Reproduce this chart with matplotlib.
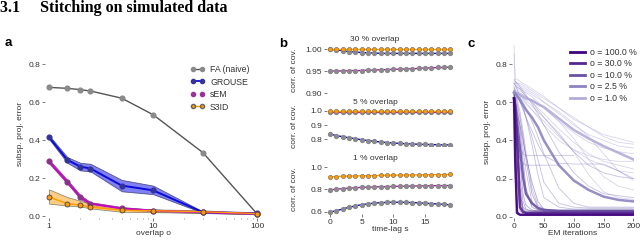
import numpy as np
import matplotlib
matplotlib.use("Agg")
import matplotlib.pyplot as plt
from matplotlib.lines import Line2D
from matplotlib.ticker import FixedLocator, NullFormatter

plt.rcParams['font.family'] = ['Liberation Sans', 'DejaVu Sans']
plt.rcParams['font.size'] = 6

# ---- panel a: error vs overlap ----
overlap = [1, 1.5, 2, 2.5, 5, 10, 30, 100]
fa_err = [0.677, 0.672, 0.665, 0.658, 0.62, 0.533, 0.334, 0.01]
grouse_err = [0.415, 0.295, 0.26, 0.25, 0.16, 0.135, 0.02, 0.015]
grouse_lo = [0.405, 0.28, 0.24, 0.235, 0.13, 0.115, 0.017, 0.012]
grouse_hi = [0.425, 0.31, 0.28, 0.275, 0.19, 0.16, 0.024, 0.018]
sem_err = [0.287, 0.18, 0.10, 0.065, 0.04, 0.028, 0.02, 0.012]
sem_lo = [0.277, 0.17, 0.09, 0.057, 0.034, 0.023, 0.016, 0.009]
sem_hi = [0.297, 0.19, 0.11, 0.073, 0.047, 0.034, 0.025, 0.015]
s3id_err = [0.10, 0.065, 0.058, 0.047, 0.03, 0.028, 0.022, 0.013]
s3id_lo = [0.065, 0.055, 0.05, 0.04, 0.022, 0.02, 0.017, 0.01]
s3id_hi = [0.14, 0.10, 0.08, 0.065, 0.04, 0.035, 0.03, 0.016]

# ---- panel b: corr. of cov. vs time-lag ----
lags = list(range(20))
b30_s3id = [0.9995] * 20
b30_grouse = [0.999, 0.998, 0.996, 0.994, 0.993, 0.992, 0.991, 0.991, 0.990, 0.990,
              0.990, 0.990, 0.990, 0.990, 0.990, 0.990, 0.990, 0.990, 0.990, 0.990]
b30_sem = [0.950, 0.950, 0.950, 0.951, 0.951, 0.951, 0.952, 0.952, 0.953, 0.953,
           0.954, 0.954, 0.955, 0.955, 0.956, 0.957, 0.957, 0.958, 0.958, 0.959]
b5_s3id = [0.999] * 20
b5_sem = [0.995] * 20
b5_grouse = [0.837, 0.826, 0.818, 0.811, 0.804, 0.797, 0.791, 0.786, 0.781, 0.777,
             0.774, 0.771, 0.769, 0.767, 0.765, 0.764, 0.763, 0.762, 0.761, 0.761]
b1_s3id = [0.915, 0.917, 0.919, 0.921, 0.922, 0.924, 0.925, 0.926, 0.927, 0.928,
           0.929, 0.930, 0.931, 0.932, 0.932, 0.933, 0.934, 0.934, 0.935, 0.936]
b1_sem = [0.797, 0.803, 0.808, 0.812, 0.816, 0.819, 0.821, 0.823, 0.825, 0.826,
          0.828, 0.829, 0.830, 0.831, 0.832, 0.833, 0.834, 0.835, 0.835, 0.836]
b1_grouse = [0.597, 0.608, 0.624, 0.640, 0.652, 0.663, 0.671, 0.677, 0.681, 0.684,
             0.685, 0.685, 0.684, 0.682, 0.679, 0.676, 0.673, 0.669, 0.666, 0.662]

# ---- panel c: error vs EM iterations ----
em_iters = [0, 2, 5, 10, 15, 20, 30, 40, 50, 75, 100, 125, 150, 175, 200]
nan = np.nan
c_labels = ['o = 100.0 %', 'o = 30.0 %', 'o = 10.0 %', 'o = 2.5 %', 'o = 1.0 %']
c_colors = ['#3f007d', '#54278f', '#6a51a3', '#8c84c0', '#b3abd8']
mean_100 = [0.62, 0.30, 0.02, 0.01, 0.01, 0.01, 0.01, 0.01, 0.01, 0.01, 0.01, 0.01, 0.01, 0.01, 0.01]
mean_30 = [0.62, 0.58, 0.40, 0.05, 0.025, 0.02, 0.02, 0.02, 0.02, 0.02, 0.02, 0.02, 0.02, 0.02, 0.02]
mean_10 = [0.62, 0.57, 0.50, 0.36, 0.21, 0.12, 0.07, 0.045, 0.035, 0.03, 0.03, 0.03, 0.03, 0.03, 0.03]
mean_2p5 = [0.65, 0.645, 0.635, 0.61, 0.585, 0.56, 0.52, 0.47, 0.40, 0.27, 0.19, 0.14, 0.105, 0.088, 0.08]
mean_1 = [0.65, 0.65, 0.65, 0.64, 0.63, 0.62, 0.61, 0.59, 0.575, 0.515, 0.455, 0.41, 0.37, 0.335, 0.30]
runs_100 = [
    [0.64, 0.20, 0.015, 0.01, 0.01, 0.01, 0.01, 0.01, 0.01, 0.01, 0.01, 0.01, 0.01, 0.01, 0.01],
    [0.60, 0.40, 0.03, 0.012, 0.01, 0.01, 0.01, 0.01, 0.01, 0.01, 0.01, 0.01, 0.01, 0.01, 0.01],
]
runs_30 = [
    [0.64, 0.62, 0.50, 0.10, 0.03, 0.02, 0.02, 0.02, 0.02, 0.02, 0.02, 0.02, 0.02, 0.02, 0.02],
    [0.60, 0.50, 0.20, 0.03, 0.02, 0.02, 0.02, 0.02, 0.02, 0.02, 0.02, 0.02, 0.02, 0.02, 0.02],
    [0.62, 0.60, 0.45, 0.15, 0.04, 0.025, 0.025, 0.025, 0.025, 0.025, 0.025, 0.025, 0.025, 0.025, 0.025],
]
runs_10 = [
    [0.64, 0.62, 0.56, 0.45, 0.30, 0.15, 0.05, 0.035, 0.03, 0.03, 0.03, 0.03, 0.03, 0.03, 0.03],
    [0.60, 0.55, 0.42, 0.20, 0.08, 0.04, 0.03, 0.03, 0.03, 0.03, 0.03, 0.03, 0.03, 0.03, 0.03],
    [0.66, 0.64, 0.60, 0.52, 0.42, 0.30, 0.12, 0.05, 0.035, 0.03, 0.03, 0.03, 0.03, 0.03, 0.03],
    [0.58, 0.50, 0.35, 0.12, 0.05, 0.035, 0.03, 0.03, 0.03, 0.03, 0.03, 0.03, 0.03, 0.03, 0.03],
    [0.62, 0.60, 0.55, 0.48, 0.40, 0.32, 0.18, 0.08, 0.04, 0.03, 0.03, 0.03, 0.03, 0.03, 0.03],
    [0.63, 0.58, 0.47, 0.28, 0.12, 0.06, 0.035, 0.03, 0.03, 0.03, 0.03, 0.03, 0.03, 0.03, 0.03],
]
runs_2p5 = [
    [0.70, 0.69, 0.67, 0.63, 0.58, 0.52, 0.38, 0.22, 0.10, 0.05, 0.04, 0.04, 0.04, 0.04, 0.04],
    [0.68, 0.66, 0.62, 0.55, 0.45, 0.34, 0.15, 0.06, 0.04, 0.035, 0.035, 0.035, 0.035, 0.035, 0.035],
    [0.66, 0.65, 0.64, 0.62, 0.60, 0.57, 0.50, 0.42, 0.33, 0.15, 0.07, 0.05, 0.05, 0.05, 0.05],
    [0.72, 0.71, 0.70, 0.68, 0.66, 0.64, 0.59, 0.54, 0.48, 0.34, 0.23, 0.16, 0.12, 0.11, 0.10],
    [0.64, 0.62, 0.58, 0.48, 0.36, 0.24, 0.08, 0.04, 0.03, 0.03, 0.03, 0.03, 0.03, 0.03, 0.03],
    [0.70, 0.69, 0.68, 0.67, 0.65, 0.63, 0.60, 0.56, 0.52, 0.43, 0.34, 0.27, 0.23, 0.21, 0.20],
    [0.62, 0.55, 0.45, 0.36, 0.33, 0.32, 0.32, 0.32, 0.32, 0.32, 0.32, nan, nan, nan, nan],
    [0.60, 0.50, 0.38, 0.30, 0.28, 0.27, 0.27, 0.27, 0.27, 0.27, nan, nan, nan, nan, nan],
    [0.66, 0.65, 0.63, 0.60, 0.56, 0.52, 0.45, 0.38, 0.32, 0.28, 0.276, 0.276, 0.276, 0.24, 0.20],
    [0.67, 0.66, 0.64, 0.61, 0.57, 0.52, 0.42, 0.30, 0.18, 0.07, 0.05, 0.045, 0.045, 0.045, 0.045],
]
runs_1 = [
    [0.90, 0.72, 0.72, 0.71, 0.70, 0.69, 0.67, 0.65, 0.63, 0.57, 0.51, 0.47, 0.43, 0.41, 0.39],
    [0.85, 0.70, 0.70, 0.69, 0.68, 0.67, 0.65, 0.63, 0.60, 0.54, 0.48, 0.43, 0.40, 0.37, 0.36],
    [0.69, 0.69, 0.68, 0.67, 0.66, 0.65, 0.63, 0.60, 0.57, 0.50, 0.44, 0.39, 0.36, 0.34, 0.33],
    [0.68, 0.68, 0.67, 0.66, 0.65, 0.63, 0.60, 0.57, 0.54, 0.46, 0.39, 0.33, 0.29, 0.27, 0.25],
    [0.66, 0.66, 0.65, 0.64, 0.62, 0.60, 0.56, 0.52, 0.48, 0.40, 0.35, 0.32, 0.30, 0.29, 0.29],
    [0.70, 0.70, 0.69, 0.68, 0.67, 0.66, 0.64, 0.62, 0.60, 0.55, 0.49, 0.42, 0.33, 0.24, 0.19],
    [0.67, 0.67, 0.66, 0.65, 0.64, 0.63, 0.61, 0.59, 0.57, 0.50, 0.41, 0.30, 0.21, 0.16, 0.14],
    [0.71, 0.71, 0.70, 0.70, 0.69, 0.68, 0.66, 0.64, 0.62, 0.57, 0.52, 0.47, 0.42, 0.39, 0.38],
    [0.65, 0.65, 0.64, 0.63, 0.62, 0.61, 0.58, 0.55, 0.52, 0.44, 0.34, 0.22, 0.13, 0.10, 0.09],
    [0.64, 0.64, 0.63, 0.62, 0.61, 0.59, 0.56, 0.53, 0.50, 0.42, 0.35, 0.30, 0.27, 0.24, 0.23],
]

W, H = 640, 240
fig = plt.figure(figsize=(W / 100, H / 100), dpi=100)


def px_axes(left, top, right, bottom):
    return fig.add_axes([left / W, 1 - bottom / H, (right - left) / W, (bottom - top) / H])


def clean(ax):
    for s in ax.spines.values():
        s.set_visible(False)
    ax.tick_params(length=2, width=0.6, color='#666666', pad=1.5, labelsize=6, labelcolor='#333333')


fig.text(0.0, 1 - 12 / H, '3.1     Stitching on simulated data', family='Liberation Serif',
         weight='bold', fontsize=11.5, va='baseline', ha='left')

BLUE = '#0a0adc'
MAG = '#c800c8'
ORANGE = '#ff9a00'
GRAY = '#555555'
MK = '#8a8a8a'

# ---------------- panel a ----------------
ax = px_axes(45, 49, 262, 218)
clean(ax)
ax.set_xscale('log')
ax.fill_between(overlap, grouse_lo, grouse_hi, color='#5555ee', alpha=0.75, lw=0.6, edgecolor='#333366')
ax.fill_between(overlap, sem_lo, sem_hi, color='#dd55dd', alpha=0.75, lw=0.6, edgecolor='#553355')
ax.fill_between(overlap, s3id_lo, s3id_hi, color='#ffb84d', alpha=0.7, lw=0.6, edgecolor='#666655')
ax.plot(overlap, fa_err, color=GRAY, lw=1.0, marker='o', ms=3.4, mfc=MK, mec=MK, zorder=3)
ax.plot(overlap, grouse_err, color=BLUE, lw=1.4, marker='o', ms=3.4, mfc='#333399', mec='#333399', zorder=3)
ax.plot(overlap, sem_err, color=MAG, lw=1.4, marker='o', ms=3.4, mfc='#883388', mec='#883388', zorder=3)
ax.plot(overlap, s3id_err, color=ORANGE, lw=1.0, marker='o', ms=3.6, mfc=ORANGE, mec='#444444', mew=0.6, zorder=4)
ax.set_xlim(0.915, 111)
ax.set_ylim(-0.0105, 0.879)
ax.set_xticks([1, 10, 100])
ax.set_xticklabels(['1', '10', '100'])
ax.xaxis.set_minor_locator(FixedLocator([2, 3, 4, 5, 6, 7, 8, 9, 20, 30, 40, 50, 60, 70, 80, 90]))
ax.xaxis.set_minor_formatter(NullFormatter())
ax.tick_params(axis='x', which='minor', length=1, width=0.6, color='#888888')
ax.set_yticks([0.0, 0.2, 0.4, 0.6, 0.8])
ax.set_yticklabels(['0.0', '0.2', '0.4', '0.6', '0.8'])
ax.set_xlabel('overlap o', fontsize=6, labelpad=0, color='#333333')
ax.set_ylabel('subsp. proj. error', fontsize=6, labelpad=3, color='#333333')
handles = [
    Line2D([], [], color=GRAY, lw=1.0, marker='o', ms=3, mfc=MK, mec=MK),
    Line2D([], [], color=BLUE, lw=1.3, marker='o', ms=3, mfc='#333399', mec='#333399'),
    Line2D([], [], color='none', lw=0, marker='o', ms=3, mfc='#993399', mec='#993399'),
    Line2D([], [], color=ORANGE, lw=1.0, marker='o', ms=3, mfc=ORANGE, mec='#666666'),
]
ax.legend(handles, ['FA (naive)', 'GROUSE', 'sEM', 'S3ID'], loc='upper left',
          bbox_to_anchor=(0.668, 0.905), frameon=False, borderpad=0, borderaxespad=0,
          handlelength=1.7, handletextpad=0.6, labelspacing=0.4, fontsize=6.3, numpoints=2,
          labelcolor='#333333')
fig.text(5 / W, 1 - 43 / H, 'a', weight='bold', fontsize=9.5, va='center', ha='left')

# ---------------- panel b ----------------
b_specs = [
    ((45, 95), (0.8955, 1.0091), [0.90, 0.95, 1.00], ['0.90', '0.95', '1.00'], '30 % overlap',
     b30_sem, b30_grouse, b30_s3id),
    ((107, 146), (0.753, 1.027), [0.8, 0.9, 1.0], ['0.8', '0.9', '1.0'], '5 % overlap',
     b5_sem, b5_grouse, b5_s3id),
    ((164, 214), (0.579, 1.03), [0.6, 0.8, 1.0], ['0.6', '0.8', '1.0'], '1 % overlap',
     b1_sem, b1_grouse, b1_s3id),
]
for i, ((top, bot), ylim, yt, ytl, title, sem_v, grouse_v, s3id_v) in enumerate(b_specs):
    bx = px_axes(327, top, 453, bot)
    clean(bx)
    bx.plot(lags, sem_v, color=MAG, lw=1.0, marker='o', ms=2.8, mfc=MK, mec=MK, zorder=2)
    bx.plot(lags, grouse_v, color=BLUE, lw=1.0, marker='o', ms=2.8, mfc=MK, mec=MK, zorder=3)
    bx.plot(lags, s3id_v, color=ORANGE, lw=1.0, marker='o', ms=3.0, mfc=ORANGE, mec='#777777', mew=0.5, zorder=4)
    bx.set_xlim(-0.47, 19.4)
    bx.set_ylim(*ylim)
    bx.set_yticks(yt)
    bx.set_yticklabels(ytl)
    bx.set_xticks([0, 5, 10, 15])
    if i < 2:
        bx.tick_params(axis='x', length=0, labelbottom=False)
    else:
        bx.set_xlabel('time-lag s', fontsize=6, labelpad=0, color='#333333')
    bx.set_ylabel('corr. of cov.', fontsize=6, color='#333333')
    bx.yaxis.set_label_coords(-0.23, 0.5)
    h_px = bot - top
    bx.text(0.38, 1 + 5 / h_px, title, transform=bx.transAxes, ha='center', va='center',
            fontsize=6, color='#333333')
fig.text(279 / W, 1 - 44 / H, 'b', weight='bold', fontsize=9.5, va='center', ha='left')

# ---------------- panel c ----------------
cx = px_axes(512, 45, 634, 218)
clean(cx)
all_runs = [runs_100, runs_30, runs_10, runs_2p5, runs_1]
all_means = [mean_100, mean_30, mean_10, mean_2p5, mean_1]
for k in [4, 3, 2, 1, 0]:
    for run in all_runs[k]:
        cx.plot(em_iters, run, color=c_colors[k], lw=0.6, alpha=0.5, zorder=1)
for k in [4, 3, 2, 1, 0]:
    cx.plot(em_iters, all_means[k], color=c_colors[k], lw=1.8, alpha=0.9, zorder=2 + (4 - k))
cx.set_xlim(-3.4, 201)
cx.set_ylim(-0.007, 0.90)
cx.set_xticks([0, 50, 100, 150, 200])
cx.set_yticks([0.0, 0.2, 0.4, 0.6, 0.8])
cx.set_yticklabels(['0.0', '0.2', '0.4', '0.6', '0.8'])
cx.set_xlabel('EM iterations', fontsize=6, labelpad=0, color='#333333')
cx.set_ylabel('subsp. proj. error', fontsize=6, labelpad=3, color='#333333')
c_handles = [Line2D([], [], color=c, lw=2) for c in c_colors]
cx.legend(c_handles, c_labels, loc='upper left', bbox_to_anchor=(0.475, 0.985), frameon=False,
          borderpad=0, borderaxespad=0, handlelength=1.7, handletextpad=0.6, labelspacing=0.3,
          fontsize=6.3, labelcolor='#333333')
fig.text(468 / W, 1 - 44 / H, 'c', weight='bold', fontsize=9.5, va='center', ha='left')

fig.savefig('out.png', dpi=100)
